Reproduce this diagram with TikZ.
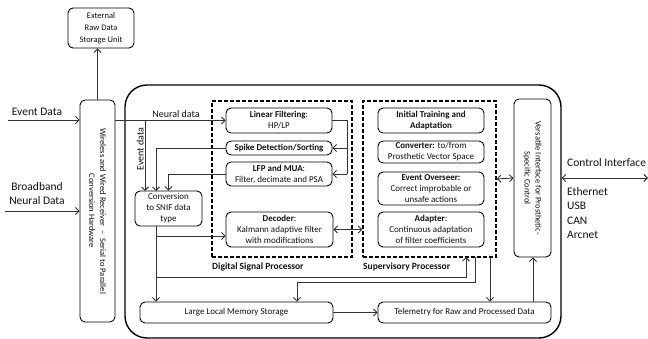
\documentclass[tikz,border=0pt]{standalone}
\usepackage{fontspec}
\setmainfont{Carlito}
\usetikzlibrary{arrows.meta}
\definecolor{ln}{HTML}{333333}
\definecolor{tx}{HTML}{111111}
\tikzset{
  box/.style={draw=black, line width=0.9pt, rounded corners=5pt, align=center, inner sep=0pt,
    text=tx, font=\fontsize{9}{11}\selectfont},
  dbox/.style={draw=black, line width=1.4pt, dash pattern=on 4pt off 2pt, inner sep=0pt},
  conn/.style={draw=ln, line width=0.9pt, >={Straight Barb[length=3.5pt,width=7pt,line width=0.9pt]}},
  lbl/.style={text=tx, inner sep=0pt, font=\fontsize{11.5}{14}\selectfont},
  blbl/.style={text=tx, inner sep=0pt, font=\fontsize{9.5}{11}\selectfont\bfseries, anchor=west},
}
\begin{document}
\begin{tikzpicture}[x=1pt, y=-1pt]
\useasboundingbox (0,0) rectangle (648,339);
% big board
\node[draw=black, line width=1.4pt, rounded corners=22pt, minimum width=436pt, minimum height=253pt, inner sep=0pt] (big) at (343,211.5) {};
% dashed processors
\node[dbox, minimum width=140pt, minimum height=156pt] (dsp) at (282,179) {};
\node[dbox, minimum width=133pt, minimum height=156pt] (sup) at (429.5,179) {};
% boxes
\node[box, minimum width=66pt, minimum height=40pt, font=\fontsize{8.5}{12}\selectfont] (storage) at (101,28) {External\\Raw Data\\Storage Unit};
\node[box, minimum width=35pt, minimum height=222pt] (recv) at (97.5,211) {};
\node[text=tx, rotate=-90, align=center, inner sep=0pt, font=\fontsize{8.5}{11}\selectfont] (recvtxt) at (recv.center) {Wireless and Wired Receiver\ \ –\ \ Serial to Parallel\\Conversion Hardware};
\node[box, minimum width=106pt, minimum height=25pt] (linf) at (279,120.5) {\textbf{Linear Filtering}:\\HP/LP};
\node[box, minimum width=106pt, minimum height=14pt] (spike) at (279,148) {\textbf{Spike Detection/Sorting}};
\node[box, minimum width=106pt, minimum height=24pt] (lfp) at (279,174) {\textbf{LFP and MUA}:\\Filter, decimate and PSA};
\node[box, minimum width=107pt, minimum height=35pt] (decoder) at (279.5,229.5) {\textbf{Decoder}:\\Kalmann adaptive filter\\with modifications};
\node[box, minimum width=67pt, minimum height=35pt] (conv) at (168.5,208.5) {Conversion\\to SNIF data\\type};
\node[box, minimum width=106pt, minimum height=25pt] (init) at (431,120.5) {\textbf{Initial Training and}\\\textbf{Adaptation}};
\node[box, minimum width=106pt, minimum height=22pt] (conv2) at (431,152) {\textbf{Converter:} to/from\\Prosthetic Vector Space};
\node[box, minimum width=106pt, minimum height=33pt] (overseer) at (431,188.5) {\textbf{Event Overseer:}\\Correct improbable or\\unsafe actions};
\node[box, minimum width=106pt, minimum height=35pt] (adapter) at (431,229.5) {\textbf{Adapter}:\\Continuous adaptation\\of filter coefficients};
\node[box, minimum width=37pt, minimum height=158pt] (vers) at (532.5,178) {};
\node[text=tx, rotate=-90, align=center, inner sep=0pt, font=\fontsize{8.5}{11}\selectfont] (verstxt) at (vers.center) {Versatile Interface for Prosthetic-\\Specific Control};
\node[box, minimum width=193pt, minimum height=21pt] (memory) at (236.5,312.5) {Large Local Memory Storage};
\node[box, minimum width=173pt, minimum height=21pt] (telem) at (464.5,312.5) {Telemetry for Raw and Processed Data};
% labels
\node[lbl] (evlbl) at (37,112) {Event Data};
\node[lbl, align=center] (bblbl) at (37,194) {Broadband\\Neural Data};
\node[text=tx, inner sep=0pt, font=\fontsize{10}{12}\selectfont, anchor=south] (nlbl) at (176,118) {Neural data};
\node[text=tx, inner sep=1pt, font=\fontsize{10}{12}\selectfont, rotate=90, anchor=south] (elbl) at (145,149) {Event data};
\node[blbl] (dsplbl) at (212,267) {Digital Signal Processor};
\node[blbl] (suplbl) at (363,267) {Supervisory Processor};
\node[lbl, anchor=west] (cilbl) at (567,163) {Control Interface};
\node[lbl, anchor=north west, align=left, font=\fontsize{11.5}{14.5}\selectfont] (buslbl) at (567,187) {Ethernet\\USB\\CAN\\Arcnet};
% coordinates
\coordinate (evsrc) at (8,120);
\coordinate (bbsrc) at (5,211);
\coordinate (ev) at (145,120.5);
\coordinate (ca) at (145,191);
\coordinate (cb) at (156,191);
\coordinate (r1) at (347,120.5);
\coordinate (cd) at (156,226);
\coordinate (bd) at (156,236);
\coordinate (bs) at (156,277);
\coordinate (s1) at (466,257);
\coordinate (s2) at (475,257);
\coordinate (s3) at (490,257);
\coordinate (k1) at (475,282);
\coordinate (k2) at (297,282);
\coordinate (tv) at (533,302);
\coordinate (ci) at (648,178);
% connectors
\draw[conn,->] (evsrc) -- (evsrc -| recv.west);
\draw[conn,->] (bbsrc) -- (recv.west);
\draw[conn,->] (recv.north) -- (recv.north |- storage.south);
\draw[conn,->] (recv.east |- linf.west) -- (linf.west);
\draw[conn,->] (ev) -- (ca);
\draw[conn,->] (spike.west) -| (cb);
\draw[conn,->] (lfp.west) -| (conv.north);
\draw[conn] (linf.east) -- (r1) -- (r1 |- lfp.east);
\draw[conn,->] (r1 |- spike.east) -- (spike.east);
\draw[conn,->] (r1 |- lfp.east) -- (lfp.east);
\draw[conn,->] (cd) -- (cd |- memory.north);
\draw[conn,->] (bd) -- (bd -| decoder.west);
\draw[conn,->] (bs) -| (s1);
\draw[conn,->] (s2) -- (k1) -- (k2) -- (k2 |- memory.north);
\draw[conn,->] (s3) -- (s3 |- telem.north);
\draw[conn,->] (memory.east) -- (telem.west);
\draw[conn,->] (tv) -- (tv |- vers.south);
\draw[conn,<->] (decoder.east) -- (decoder.east -| sup.west);
\draw[conn,<->] (sup.east) -- (vers.west);
\draw[conn,<->] (ci -| big.east) -- (ci);
\end{tikzpicture}
\end{document}
